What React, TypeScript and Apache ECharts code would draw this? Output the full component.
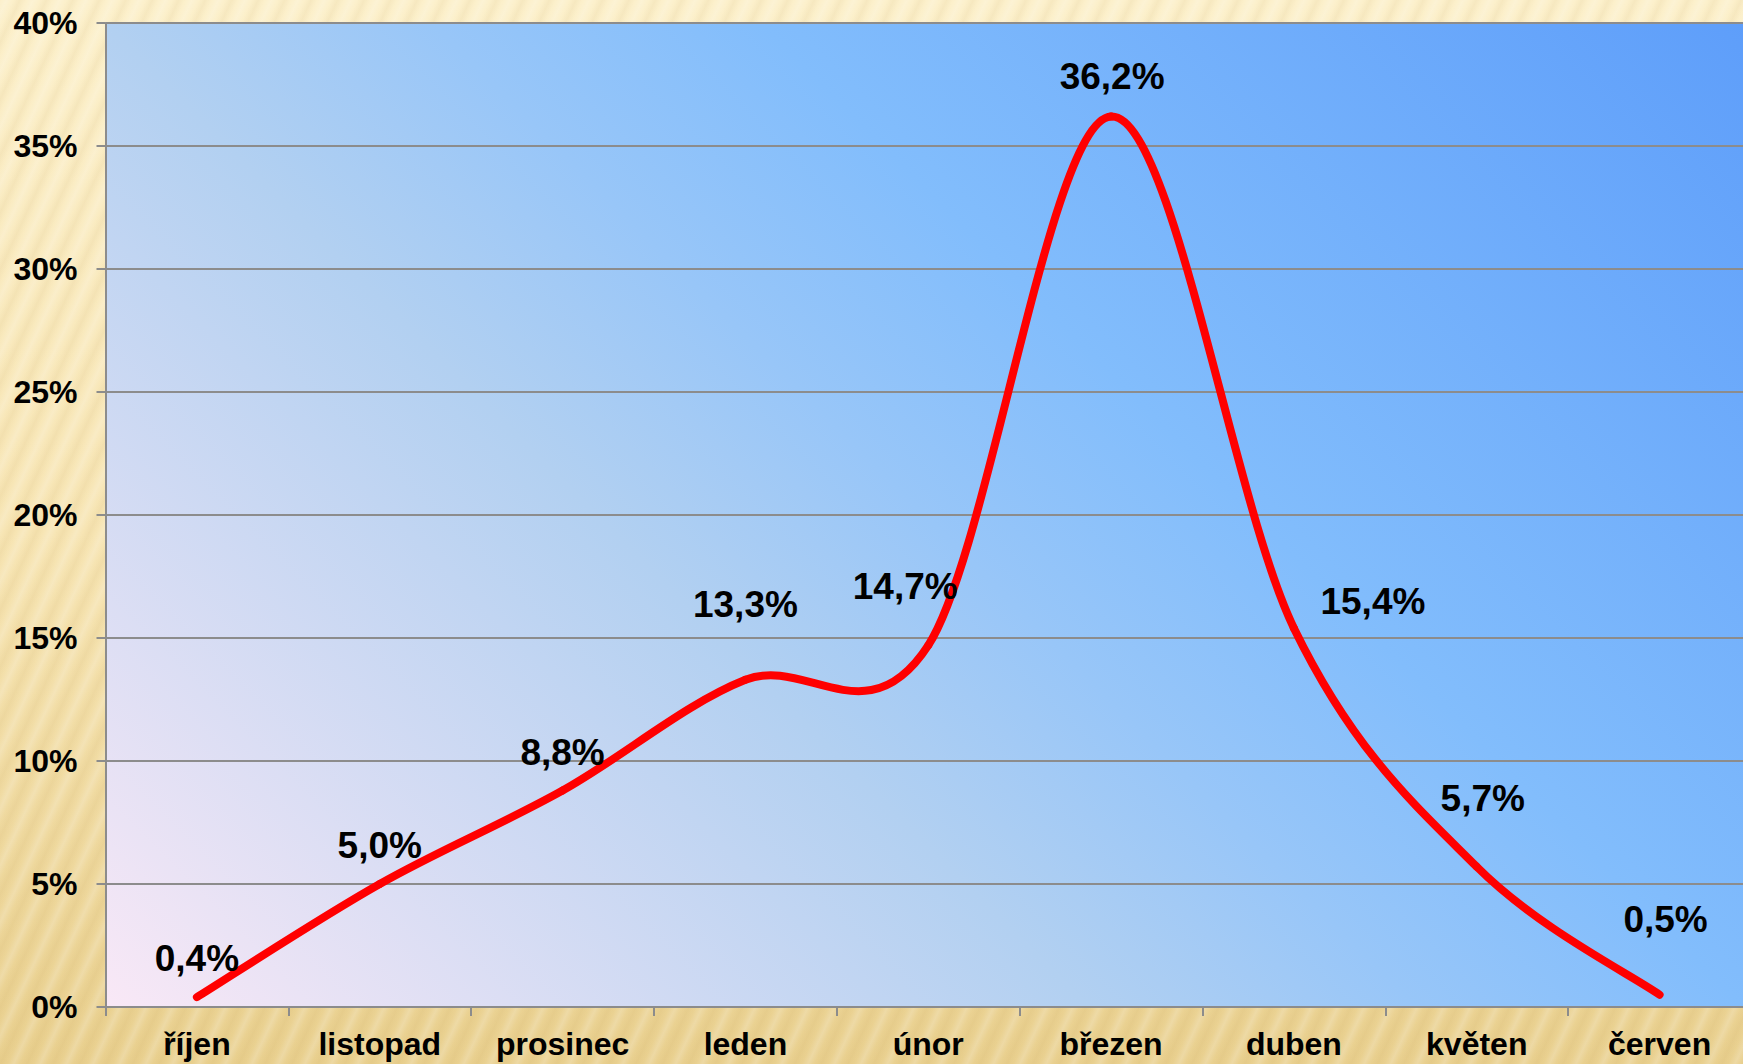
import React, { useEffect, useRef } from "react";
import * as echarts from "echarts";

const categories = ["říjen", "listopad", "prosinec", "leden", "únor", "březen", "duben", "květen", "červen"];
const values = [0.4, 5.0, 8.8, 13.3, 14.7, 36.2, 15.4, 5.7, 0.5];
const valueLabels = ["0,4%", "5,0%", "8,8%", "13,3%", "14,7%", "36,2%", "15,4%", "5,7%", "0,5%"];
const yTicks = [0, 5, 10, 15, 20, 25, 30, 35, 40];
// label offsets [dx, dy] relative to the default "top" position
const labelOffsets = [
  [0, 0], [0, 0], [0, 1], [0, -36], [-23, -20], [1, -1], [79, 12], [6, -29], [6, -36],
];

const W = 1743;
const H = 1064;
const GL = 105.5;
const GT = 23;
const GB = 57;
const GR = -8;
const FONT = "Liberation Sans, Arial, sans-serif";

export default function App() {
  const ref = useRef<HTMLDivElement>(null);
  useEffect(() => {
    if (!ref.current) return;
    const chart = echarts.init(ref.current, undefined, { renderer: "svg" });
    const plotBottom = H - GB;
    const bg = {
      type: "linear",
      x: GL,
      y: plotBottom,
      x2: GL + 1311,
      y2: plotBottom - 1311,
      global: true,
      colorStops: [
        { offset: 0, color: "#f9e8f6" },
        { offset: 0.375, color: "#b2d0f1" },
        { offset: 0.5, color: "#98c6f8" },
        { offset: 0.625, color: "#82bdfc" },
        { offset: 1, color: "#5e9efa" },
      ],
    };
    const n = values.length;
    chart.setOption({
      animation: false,
      grid: {
        left: GL,
        top: GT,
        right: GR,
        bottom: GB,
        outerBoundsMode: "none",
        containLabel: false,
        show: true,
        backgroundColor: bg,
        borderWidth: 0,
      },
      xAxis: {
        type: "category",
        data: categories,
        boundaryGap: true,
        axisLine: { show: true, lineStyle: { color: "#8c8c8c", width: 2 } },
        axisTick: { show: true, alignWithLabel: false, length: 9, lineStyle: { color: "#8c8c8c", width: 2 } },
        axisLabel: {
          interval: 0,
          margin: 21,
          fontSize: 32,
          fontWeight: "bold",
          fontFamily: FONT,
          color: "#000",
        },
        splitLine: { show: false },
      },
      yAxis: {
        type: "value",
        min: 0,
        max: 40,
        interval: 5,
        axisLine: { show: true, lineStyle: { color: "#8c8c8c", width: 2 } },
        axisTick: { show: true, length: 9, lineStyle: { color: "#8c8c8c", width: 2 } },
        axisLabel: {
          margin: 28,
          fontSize: 32,
          fontWeight: "bold",
          fontFamily: FONT,
          color: "#000",
          formatter: (v: number) => (yTicks.includes(v) ? v + "%" : ""),
        },
        splitLine: { show: true, lineStyle: { color: "#8c8c8c", width: 2 } },
      },
      series: [
        {
          // smoothed curve (Catmull-Rom style Bezier segments through the data points)
          type: "custom",
          data: values.map((v, i) => [i, v]),
          z: 3,
          silent: true,
          renderItem: (params: any, api: any) => {
            const i = params.dataIndex;
            if (i >= n - 1) return null;
            const pt = (k: number) => {
              const kk = Math.max(0, Math.min(n - 1, k));
              return api.coord([kk, values[kk]]);
            };
            const p0 = pt(i - 1);
            const p1 = pt(i);
            const p2 = pt(i + 1);
            const p3 = pt(i + 2);
            const c1 = [p1[0] + (p2[0] - p0[0]) / 6, p1[1] + (p2[1] - p0[1]) / 6];
            const c2 = [p2[0] - (p3[0] - p1[0]) / 6, p2[1] - (p3[1] - p1[1]) / 6];
            return {
              type: "bezierCurve",
              shape: {
                x1: p1[0],
                y1: p1[1],
                x2: p2[0],
                y2: p2[1],
                cpx1: c1[0],
                cpy1: c1[1],
                cpx2: c2[0],
                cpy2: c2[1],
              },
              style: { stroke: "#ff0000", lineWidth: 8, lineCap: "round", fill: null },
            };
          },
        },
        {
          // data labels
          type: "line",
          data: values.map((v, i) => ({
            value: v,
            label: { offset: labelOffsets[i] },
          })),
          showSymbol: true,
          symbol: "circle",
          symbolSize: 1,
          itemStyle: { color: "rgba(0,0,0,0)" },
          lineStyle: { width: 0, opacity: 0 },
          label: {
            show: true,
            position: "top",
            distance: 20,
            fontSize: 37,
            fontWeight: "bold",
            fontFamily: FONT,
            color: "#000",
            formatter: (p: any) => valueLabels[p.dataIndex],
          },
          z: 4,
          silent: true,
        },
      ],
    });
    return () => chart.dispose();
  }, []);
  return (
    <div
      style={{
        position: "fixed",
        left: 0,
        top: 0,
        width: W,
        height: H,
        overflow: "hidden",
        background:
          "repeating-linear-gradient(115deg, rgba(255,255,255,0) 0px, rgba(255,255,255,0.18) 6px, rgba(255,255,255,0) 12px, rgba(180,140,60,0.08) 18px, rgba(255,255,255,0) 24px), linear-gradient(180deg, #fcf0cb 0%, #f7e5b4 50%, #e9d08f 100%)",
      }}
    >
      <div ref={ref} style={{ width: W, height: H }} />
    </div>
  );
}
